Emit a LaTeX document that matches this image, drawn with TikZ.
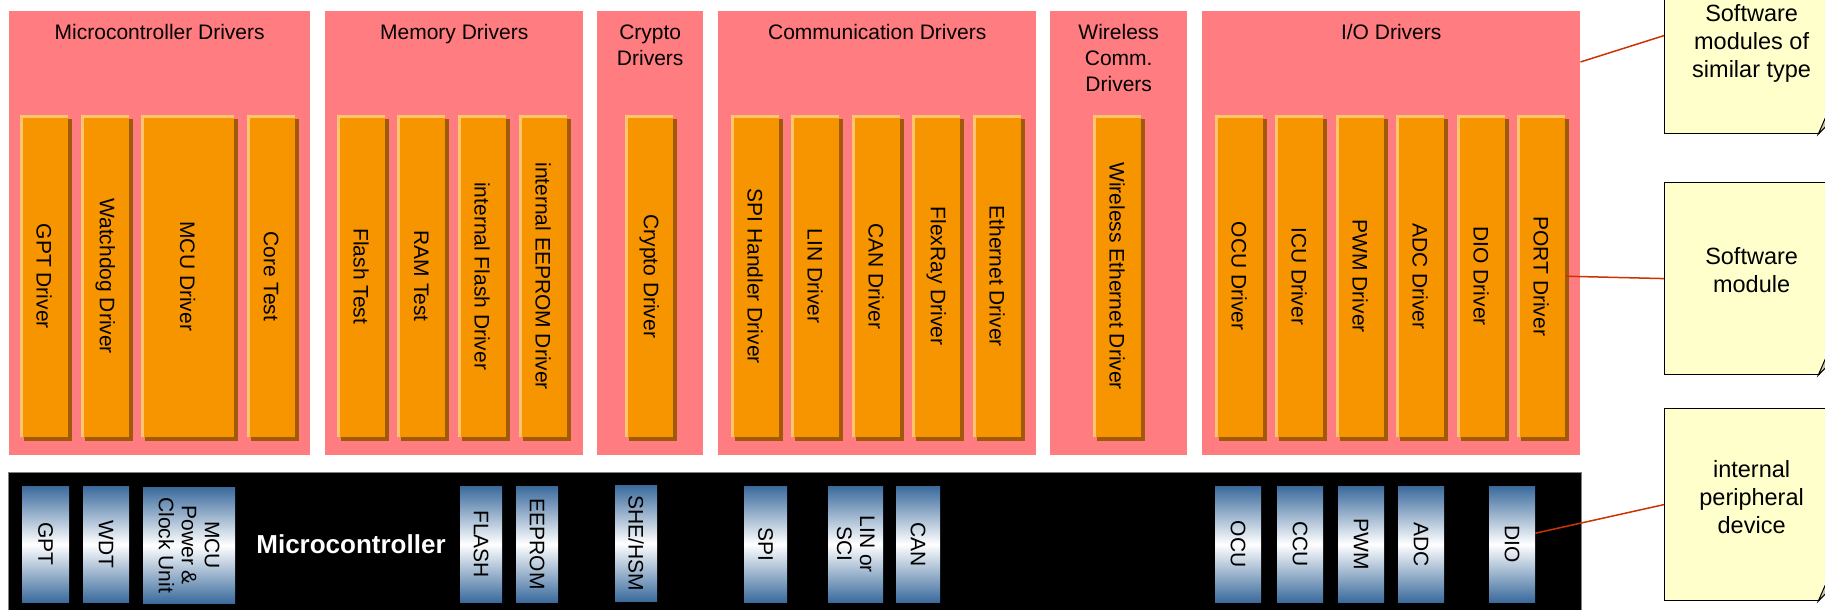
\documentclass[tikz,border=0pt]{standalone}
\usepackage{fontspec}
\setmainfont{Liberation Sans}
\usepackage{xcolor}
\usepackage{tikz}
\usetikzlibrary{shadows}

\definecolor{grppink}{RGB}{255,124,128}
\definecolor{modorange}{RGB}{247,149,0}
\definecolor{modhigh}{RGB}{255,196,110}
\definecolor{modshade}{RGB}{160,90,10}
\definecolor{periblue}{RGB}{58,106,156}
\definecolor{noteyel}{RGB}{255,255,204}
\definecolor{notefold}{RGB}{200,200,176}
\definecolor{calloutred}{RGB}{204,51,0}

\tikzset{
  drvgroup/.style={fill=grppink, anchor=north west, inner sep=0, minimum height=444pt},
  grptitle/.style={anchor=north, inner sep=0, align=center, font=\fontsize{21}{26}\selectfont},
  swmodule/.style={fill=modorange, anchor=north west, inner sep=0, minimum width=48pt, minimum height=322pt,
    drop shadow={shadow xshift=4pt, shadow yshift=-4pt, fill=modshade, opacity=1},
    path picture={\draw[modhigh, line width=5pt] (path picture bounding box.south west)
      -- (path picture bounding box.north west) -- (path picture bounding box.north east);}},
  vtxt/.style={label={[rotate=-90, align=center, font=\fontsize{21}{23}\selectfont]center:#1}},
  periph/.style={top color=periblue, bottom color=periblue, middle color=white, anchor=north west,
    inner sep=0, minimum width=46pt, minimum height=116pt},
  stickynote/.style={fill=noteyel, draw=black, line width=1.2pt, anchor=north west, inner sep=0,
    minimum width=174pt, minimum height=192pt},
  notetxt/.style={align=center, yshift=8pt, font=\fontsize{23.5}{28}\selectfont},
  calloutline/.style={calloutred, line width=1.5pt}
}

% curled corner at the lower right of a note
\newcommand{\foldcorner}[1]{%
  \fill[white] ([xshift=-22pt,yshift=-2pt]#1.south east) -- ([xshift=2pt,yshift=-2pt]#1.south east)
    -- ([xshift=2pt,yshift=22pt]#1.south east) -- cycle;
  \filldraw[fill=notefold, draw=black, line width=1pt] ([xshift=-21pt]#1.south east)
    .. controls ([xshift=-18pt,yshift=8pt]#1.south east) .. ([xshift=-14pt,yshift=16pt]#1.south east)
    -- ([yshift=21pt]#1.south east) -- cycle;
}

\begin{document}
\begin{tikzpicture}[x=1pt, y=-1pt]
  \def\modtop{115}
  \def\pertop{486}
  \useasboundingbox (0,0) rectangle (1825,610);

  % driver groups
  \node[drvgroup, minimum width=301pt] (mcdrv) at (9,11) {};
  \node[grptitle] (mcdrvt) at ([yshift=-10pt]mcdrv.north) {\strut Microcontroller Drivers};
  \node[swmodule, vtxt={GPT Driver}] (gptdrv) at (20,\modtop) {};
  \node[swmodule, vtxt={Watchdog Driver}] (wdgdrv) at (81,\modtop) {};
  \node[swmodule, minimum width=93pt, vtxt={MCU Driver}] (mcudrv) at (141,\modtop) {};
  \node[swmodule, vtxt={Core Test}] (coretst) at (247,\modtop) {};

  \node[drvgroup, minimum width=258pt] (memdrv) at (325,11) {};
  \node[grptitle] (memdrvt) at ([yshift=-10pt]memdrv.north) {\strut Memory Drivers};
  \node[swmodule, vtxt={Flash Test}] (flashtst) at (337,\modtop) {};
  \node[swmodule, vtxt={RAM Test}] (ramtst) at (397,\modtop) {};
  \node[swmodule, vtxt={internal Flash Driver}] (flsdrv) at (458,\modtop) {};
  \node[swmodule, vtxt={internal EEPROM Driver}] (eepdrv) at (519,\modtop) {};

  \node[drvgroup, minimum width=106pt] (crydrv) at (597,11) {};
  \node[grptitle] (crydrvt) at ([yshift=-10pt]crydrv.north) {\strut Crypto\\Drivers};
  \node[swmodule, vtxt={Crypto Driver}] (crymod) at (625,\modtop) {};

  \node[drvgroup, minimum width=318pt] (commdrv) at (718,11) {};
  \node[grptitle] (commdrvt) at ([yshift=-10pt]commdrv.north) {\strut Communication Drivers};
  \node[swmodule, vtxt={SPI Handler Driver}] (spidrv) at (731,\modtop) {};
  \node[swmodule, vtxt={LIN Driver}] (lindrv) at (791,\modtop) {};
  \node[swmodule, vtxt={CAN Driver}] (candrv) at (852,\modtop) {};
  \node[swmodule, vtxt={FlexRay Driver}] (frdrv) at (912,\modtop) {};
  \node[swmodule, vtxt={Ethernet Driver}] (ethdrv) at (973,\modtop) {};

  \node[drvgroup, minimum width=137pt] (wlessdrv) at (1050,11) {};
  \node[grptitle] (wlessdrvt) at ([yshift=-10pt]wlessdrv.north) {\strut Wireless\\Comm.\\Drivers};
  \node[swmodule, vtxt={Wireless Ethernet Driver}] (wethdrv) at (1093,\modtop) {};

  \node[drvgroup, minimum width=378pt] (iodrv) at (1202,11) {};
  \node[grptitle] (iodrvt) at ([yshift=-10pt]iodrv.north) {\strut I/O Drivers};
  \node[swmodule, vtxt={OCU Driver}] (ocudrv) at (1215,\modtop) {};
  \node[swmodule, vtxt={ICU Driver}] (icudrv) at (1275,\modtop) {};
  \node[swmodule, vtxt={PWM Driver}] (pwmdrv) at (1336,\modtop) {};
  \node[swmodule, vtxt={ADC Driver}] (adcdrv) at (1396,\modtop) {};
  \node[swmodule, vtxt={DIO Driver}] (diodrv) at (1457,\modtop) {};
  \node[swmodule, vtxt={PORT Driver}] (portdrv) at (1517,\modtop) {};

  % microcontroller with its peripherals
  \node[fill=black, draw=gray, anchor=north west, inner sep=0, minimum width=1573pt, minimum height=150pt] (mcu) at (8,472) {};
  \node[text=white, font=\fontsize{26}{30}\selectfont\bfseries] (mcutitle) at (351,544) {Microcontroller};
  \node[periph, minimum width=47pt, vtxt=GPT] (gpt) at (22,\pertop) {};
  \node[periph, vtxt=WDT] (wdt) at (83,\pertop) {};
  \node[periph, minimum width=92pt, vtxt={MCU\\Power \&\\Clock Unit}] (mcupwr) at (143,487) {};
  \node[periph, minimum width=42pt, vtxt=FLASH] (flash) at (460,\pertop) {};
  \node[periph, minimum width=42pt, vtxt=EEPROM] (eeprom) at (516,\pertop) {};
  \node[periph, minimum width=42pt, vtxt={SHE/HSM}] (shehsm) at (615,485) {};
  \node[periph, minimum width=43pt, vtxt=SPI] (spi) at (744,\pertop) {};
  \node[periph, minimum width=55pt, vtxt={LIN or\\SCI}] (linsci) at (828,\pertop) {};
  \node[periph, minimum width=44pt, vtxt=CAN] (can) at (896,\pertop) {};
  \node[periph, vtxt=OCU] (ocu) at (1215,\pertop) {};
  \node[periph, vtxt=CCU] (ccu) at (1277,\pertop) {};
  \node[periph, vtxt=PWM] (pwm) at (1338,\pertop) {};
  \node[periph, vtxt=ADC] (adc) at (1398,\pertop) {};
  \node[periph, vtxt=DIO] (dio) at (1489,\pertop) {};

  % legend notes
  \node[stickynote, label={[notetxt, yshift=-14pt]center:Software\\modules of\\similar type}] (ntype) at (1664,-59) {};
  \node[stickynote, label={[notetxt]center:Software\\module}] (nmod) at (1664,182) {};
  \node[stickynote, label={[notetxt]center:internal\\peripheral\\device}] (nperiph) at (1664,408) {};
  \foldcorner{ntype}
  \foldcorner{nmod}
  \foldcorner{nperiph}

  \draw[calloutline] ([yshift=-51pt]iodrv.north east) -- ([yshift=2pt]ntype.west);
  \draw[calloutline] (portdrv.east) -- (nmod.west);
  \draw[calloutline] ([yshift=11pt]dio.east) -- (nperiph.west);
\end{tikzpicture}
\end{document}
